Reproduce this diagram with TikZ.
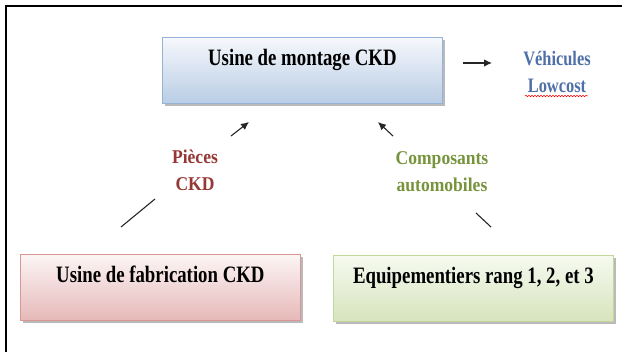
\documentclass[tikz,border=0pt]{standalone}
\usepackage{fontspec}
\setmainfont{Liberation Serif}
\newfontfamily\boxfont{Liberation Serif}[FakeStretch=0.8]
\newfontfamily\labfont{Liberation Serif}[FakeStretch=0.9]
\usetikzlibrary{shadows,arrows.meta,decorations.pathmorphing}
\definecolor{bluetop}{HTML}{F6F8FC}
\definecolor{bluebot}{HTML}{B9CDE5}
\definecolor{blueline}{HTML}{95B3D7}
\definecolor{redtop}{HTML}{FCF5F5}
\definecolor{redbot}{HTML}{E6B9B8}
\definecolor{redline}{HTML}{D99694}
\definecolor{greentop}{HTML}{F6FAF0}
\definecolor{greenbot}{HTML}{D7E4BD}
\definecolor{greenline}{HTML}{C3D69B}
\definecolor{vehblue}{HTML}{4F6FA8}
\definecolor{piecered}{HTML}{953735}
\definecolor{compgreen}{HTML}{77933C}
\tikzset{
  boxstyle/.style={anchor=north west, minimum width=280pt, inner xsep=0pt, inner ysep=0pt,
    text height=28.5pt, text depth=37.5pt, line width=0.8pt,
    font=\boxfont\bfseries\fontsize{23.5}{27}\selectfont,
    drop shadow={shadow xshift=3pt, shadow yshift=-3pt, fill=black!45, opacity=0.6}},
  labstyle/.style={align=center, font=\labfont\bfseries\fontsize{19.5}{27}\selectfont, inner sep=0pt},
  conn/.style={line width=1.1pt, black!85},
  arr/.style={conn, -{Latex[length=8pt,width=7.5pt]}}
}
\begin{document}
\begin{tikzpicture}[x=1pt,y=-1pt]
\useasboundingbox (0,0) rectangle (622,352);
% frame
\draw[line width=2pt] (6,352) -- (6,6) -- (622,6);
% boxes
\node[boxstyle, draw=blueline, top color=bluetop, bottom color=bluebot] (montage) at (162,37) {Usine de montage CKD};
\node[boxstyle, draw=redline, top color=redtop, bottom color=redbot] (fab) at (20,254) {Usine de fabrication CKD};
\node[boxstyle, draw=greenline, top color=greentop, bottom color=greenbot] (equip) at (333,255) {Equipementiers rang 1, 2, et 3};
% labels (base anchor = baseline of last line)
\node[labstyle, text=piecered, anchor=base] (pieces) at (195,191) {Pièces\\CKD};
\node[labstyle, text=compgreen, anchor=base] (comp) at (442,192) {Composants\\automobiles};
\node[labstyle, text=vehblue, anchor=base, font=\boxfont\bfseries\fontsize{20.5}{27}\selectfont] (veh) at (557,93) {Véhicules\\Lowcost};
% connector coordinates
\coordinate (p1) at (121,227);
\coordinate (p2) at (155,199);
\coordinate (p3) at (231,136);
\coordinate (p4) at (249,122);
\coordinate (c1) at (491,227);
\coordinate (c2) at (476,213);
\coordinate (c3) at (393,136);
\coordinate (c4) at (378,122);
\coordinate (v1) at (463,63);
\coordinate (v2) at (492,63);
\coordinate (w1) at (525,96);
\coordinate (w2) at (588,96);
\draw[conn] (p1) -- (p2);
\draw[arr] (p3) -- (p4);
\draw[conn] (c1) -- (c2);
\draw[arr] (c3) -- (c4);
\draw[arr] (v1) -- (v2);
\draw[red, line width=0.5pt, decorate, decoration={snake, amplitude=0.8pt, segment length=3pt}] (w1) -- (w2);
\end{tikzpicture}
\end{document}
